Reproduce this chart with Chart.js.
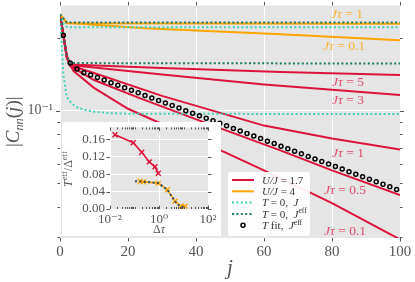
<!DOCTYPE html>
<html>
<head>
<meta charset="utf-8">
<script src="https://cdn.jsdelivr.net/npm/chart.js@4.4.0/dist/chart.umd.min.js"></script>
<style>
  html, body { margin: 0; padding: 0; background: #fff; }
  #wrap { position: relative; width: 415px; height: 282px; overflow: hidden; }
  #main { position: absolute; left: 0; top: 0; }
  #insetBox { position: absolute; left: 62px; top: 122px; width: 159px; height: 114px; background: #fff; }
</style>
</head>
<body>
<div id="wrap">
  <canvas id="main" width="415" height="282"></canvas>
  <div id="insetBox"><canvas id="inset" width="159" height="114"></canvas></div>
</div>
<script>
// ---- main panel: |C_nn(j)| against j ----
const jTicks = [0, 20, 40, 60, 80, 100]
const cMajorTicks = [0.1]
const cMinorTicks = [0.03, 0.04, 0.05, 0.06, 0.07, 0.08, 0.09, 0.2]

// U/J = 1.7, finite temperature (J tau = 5, 3, 1, 0.5, 0.1)
const j17tau5 = [0, 1, 2, 3, 30, 65, 100]
const c17tau5 = [0.2507, 0.2055, 0.1684, 0.1554, 0.1503, 0.1447, 0.1406]
const j17tau3 = [0, 1, 2, 3, 10, 30, 60, 100]
const c17tau3 = [0.2507, 0.2055, 0.1684, 0.1547, 0.1510, 0.1413, 0.1285, 0.1161]
const j17tau1 = [0, 1, 2, 3, 10, 30, 60, 80, 100]
const c17tau1 = [0.2507, 0.2055, 0.1684, 0.1539, 0.1434, 0.1153, 0.0868, 0.0767, 0.0691]
const j17tau05 = [0, 1, 2, 3, 10, 24, 45, 65, 80, 100]
const c17tau05 = [0.2507, 0.2055, 0.1684, 0.1532, 0.1341, 0.1120, 0.0868, 0.0684, 0.0566, 0.0447]
const j17tau01 = [0, 1, 2, 4, 10, 20, 46, 60, 80, 100]
const c17tau01 = [0.2507, 0.2055, 0.1653, 0.1461, 0.1244, 0.1019, 0.0698, 0.0566, 0.0414, 0.0293]

// U/J = 4 (J tau = 1, 0.1)
const j4tau1 = [0, 1, 2, 100]
const c4tau1 = [0.2507, 0.2413, 0.2302, 0.2291]
const j4tau01 = [0, 1, 2, 10, 25, 65, 100]
const c4tau01 = [0.2507, 0.2413, 0.2313, 0.2270, 0.2196, 0.2074, 0.1960]

// T = 0 with J
const jT0J4 = [0, 1, 2, 3, 100]
const cT0J4 = [0.2507, 0.2302, 0.2227, 0.2217, 0.2217]
const jT0J17 = [0, 1, 2, 3, 4, 5, 7, 10, 15, 20, 100]
const cT0J17 = [0.2507, 0.1406, 0.1142, 0.1089, 0.1058, 0.1034, 0.1009, 0.0991, 0.0977, 0.0972, 0.0969]

// T = 0 with J^eff
const jT0Jeff4 = [0, 1, 2, 100]
const cT0Jeff4 = [0.2507, 0.2413, 0.2324, 0.2324]
const jT0Jeff17 = [0, 1, 2, 3, 100]
const cT0Jeff17 = [0.2507, 0.2055, 0.1684, 0.1576, 0.1569]

// T fit with J^eff (open circles)
const jFit = [1, 3, 5, 7, 9, 11, 13, 15, 17, 19, 21, 23, 25, 27, 29, 31, 33, 35, 37, 39,
  41, 43, 45, 47, 49, 51, 53, 55, 57, 59, 61, 63, 65, 67, 69, 71, 73, 75, 77, 79,
  81, 83, 85, 87, 89, 91, 93, 95, 97, 99]
const cFit = [0.2055, 0.1576, 0.1489, 0.1438, 0.1406, 0.1373, 0.1340, 0.1307, 0.1276, 0.1246,
  0.1216, 0.1187, 0.1158, 0.1130, 0.1103, 0.1077, 0.1051, 0.1026, 0.1001, 0.0977,
  0.0954, 0.0931, 0.0909, 0.0887, 0.0866, 0.0845, 0.0825, 0.0805, 0.0786, 0.0767,
  0.0748, 0.0731, 0.0713, 0.0696, 0.0679, 0.0663, 0.0647, 0.0631, 0.0616, 0.0602,
  0.0587, 0.0573, 0.0559, 0.0546, 0.0533, 0.0520, 0.0508, 0.0496, 0.0484, 0.0472]

// ---- inset: T^eff / Delta^eff against Delta tau ----
const dtauMajor = [0.01, 1, 100]
const dtauLabels = ['10⁻²', '10⁰', '10²']
const dtauMinor = [0.02, 0.03, 0.04, 0.05, 0.06, 0.07, 0.08, 0.09, 0.1, 0.2, 0.3, 0.4, 0.5, 0.6, 0.7, 0.8, 0.9,
  2, 3, 4, 5, 6, 7, 8, 9, 10, 20, 30, 40, 50, 60, 70, 80, 90]
const ratioTicks = [0, 0.04, 0.08, 0.12, 0.16]

const dtau17 = [0.016, 0.089, 0.197, 0.402, 0.687, 0.935]
const ratio17 = [0.170, 0.152, 0.130, 0.108, 0.0967, 0.082]
const dtau4 = [0.168, 0.229, 0.935, 2.2, 4.5, 7.9, 11.5]
const ratio4 = [0.0637, 0.0622, 0.0593, 0.044, 0.0176, 0.0066, 0.0066]
const dtauT0 = [0.105, 0.43, 0.935, 2.2, 4.5, 7.2, 10.5]
const ratioT0 = [0.0637, 0.0615, 0.0593, 0.044, 0.0176, 0.0055, 0.0044]

const legendLabels = [
  [['U/J', 'i'], [' = 1.7', 'r']],
  [['U/J', 'i'], [' = 4', 'r']],
  [['T', 'i'], [' = 0,  ', 'r'], ['J', 'i']],
  [['T', 'i'], [' = 0,  ', 'r'], ['J', 'i'], ['eff', 'sup']],
  [['T', 'i'], [' fit,  ', 'r'], ['J', 'i'], ['eff', 'sup']]
]

const SERIF = '"Liberation Serif", "DejaVu Serif", serif'
const PANEL = '#e5e5e5'
const TXT = '#555'
const RED = '#dc143c'
const ORANGE = '#ffa500'
const TURQ = '#40d0b4'
const DKGREEN = '#1d7a66'
const SLATE = '#2e4a5e'
const DOTS = [2, 2.4]

const pts = (xs, ys) => xs.map((x, i) => ({ x: x, y: ys[i] }))

// no extra room for half-labels at the ends of the axes
const noPad = s => { s.paddingTop = 0; s.paddingBottom = 0; s.paddingLeft = 0; s.paddingRight = 0 }

function richText (ctx, parts, x, y, size, align) {
  const fontFor = s => {
    if (s === 'sup') return (size * 0.7) + 'px ' + SERIF
    if (s === 'sub') return 'italic ' + (size * 0.65) + 'px ' + SERIF
    if (s === 'i') return 'italic ' + size + 'px ' + SERIF
    return size + 'px ' + SERIF
  }
  let w = 0
  parts.forEach(p => { ctx.font = fontFor(p[1]); w += ctx.measureText(p[0]).width })
  let cx = align === 'center' ? x - w / 2 : x
  ctx.textAlign = 'left'
  ctx.textBaseline = 'alphabetic'
  parts.forEach(p => {
    ctx.font = fontFor(p[1])
    let dy = 0
    if (p[1] === 'sup') dy = -size * 0.4
    if (p[1] === 'sub') dy = size * 0.22
    ctx.fillText(p[0], cx, y + dy)
    cx += ctx.measureText(p[0]).width
  })
}

const panelBg = {
  id: 'panelBg',
  beforeDraw (chart) {
    const a = chart.chartArea
    chart.ctx.save()
    chart.ctx.fillStyle = PANEL
    chart.ctx.fillRect(a.left, a.top, a.right - a.left, a.bottom - a.top)
    chart.ctx.restore()
  }
}

const mainDecor = {
  id: 'mainDecor',
  afterDraw (chart) {
    const ctx = chart.ctx
    const a = chart.chartArea
    const x = chart.scales.x
    const y = chart.scales.y
    ctx.save()
    // tick marks on all four sides
    ctx.strokeStyle = TXT
    ctx.lineWidth = 1
    ctx.beginPath()
    jTicks.forEach(v => {
      const px = Math.round(x.getPixelForValue(v)) + 0.5
      ctx.moveTo(px, a.bottom); ctx.lineTo(px, a.bottom + 3.5)
      ctx.moveTo(px, a.top); ctx.lineTo(px, a.top - 3.5)
    })
    cMajorTicks.forEach(v => {
      const py = Math.round(y.getPixelForValue(v)) + 0.5
      ctx.moveTo(a.left, py); ctx.lineTo(a.left - 4, py)
      ctx.moveTo(a.right, py); ctx.lineTo(a.right + 4, py)
    })
    cMinorTicks.forEach(v => {
      const py = Math.round(y.getPixelForValue(v)) + 0.5
      ctx.moveTo(a.left, py); ctx.lineTo(a.left - 2.5, py)
      ctx.moveTo(a.right, py); ctx.lineTo(a.right + 2.5, py)
    })
    ctx.stroke()

    // axis titles
    ctx.fillStyle = TXT
    richText(ctx, [['j', 'i']], (a.left + a.right) / 2, 274, 21, 'center')
    ctx.save()
    ctx.translate(13, (a.top + a.bottom) / 2)
    ctx.rotate(-Math.PI / 2)
    richText(ctx, [['|', 'r'], ['C', 'i'], ['nn', 'sub'], ['(', 'r'], ['j', 'i'], [')|', 'r']], 0, 6, 19, 'center')
    ctx.restore()

    // J tau annotations
    const orangeTxt = 'rgba(255,165,0,0.8)'
    const redTxt = 'rgba(220,20,60,0.75)'
    const notes = [
      [[['Jτ', 'i'], [' = 1', 'r']], 347, 18, orangeTxt],
      [[['Jτ', 'i'], [' = 0.1', 'r']], 344, 50, orangeTxt],
      [[['Jτ', 'i'], [' = 5', 'r']], 348, 86, redTxt],
      [[['Jτ', 'i'], [' = 3', 'r']], 348, 104, redTxt],
      [[['Jτ', 'i'], [' = 1', 'r']], 348, 157, redTxt],
      [[['Jτ', 'i'], [' = 0.5', 'r']], 345, 194, redTxt],
      [[['Jτ', 'i'], [' = 0.1', 'r']], 345, 235, redTxt]
    ]
    notes.forEach(n => { ctx.fillStyle = n[3]; richText(ctx, n[0], n[1], n[2], 13.5, 'center') })

    // legend box
    const bx = 228, by = 172, bw = 82, bh = 64
    ctx.beginPath()
    ctx.roundRect(bx, by, bw, bh, 3)
    ctx.fillStyle = 'rgba(255,255,255,0.92)'
    ctx.fill()
    const styles = [
      { c: RED, dash: [] },
      { c: ORANGE, dash: [] },
      { c: TURQ, dash: DOTS },
      { c: DKGREEN, dash: DOTS },
      { c: '#000', marker: true }
    ]
    legendLabels.forEach((lab, i) => {
      const cy = 180 + i * 11.3
      const s = styles[i]
      if (s.marker) {
        ctx.beginPath()
        ctx.setLineDash([])
        ctx.strokeStyle = '#000'
        ctx.lineWidth = 1.5
        ctx.arc(243, cy, 2, 0, Math.PI * 2)
        ctx.stroke()
      } else {
        ctx.beginPath()
        ctx.setLineDash(s.dash)
        ctx.strokeStyle = s.c
        ctx.lineWidth = 2
        ctx.moveTo(232, cy); ctx.lineTo(254, cy)
        ctx.stroke()
      }
      ctx.setLineDash([])
      ctx.fillStyle = '#333'
      richText(ctx, lab, 262, cy + 3.8, 11, 'left')
    })
    ctx.restore()
  }
}

const lineSet = (xs, ys, color, dash, order) => ({
  data: pts(xs, ys),
  borderColor: color,
  borderWidth: 2,
  borderDash: dash,
  pointRadius: 0,
  fill: false,
  order: order
})

new Chart(document.getElementById('main'), {
  type: 'line',
  data: {
    datasets: [
      {
        data: pts(jFit, cFit),
        showLine: false,
        pointRadius: 2,
        pointBorderWidth: 1.5,
        pointBorderColor: '#000',
        pointBackgroundColor: 'rgba(0,0,0,0)',
        order: 0
      },
      lineSet(jT0Jeff4, cT0Jeff4, DKGREEN, DOTS, 1),
      lineSet(jT0Jeff17, cT0Jeff17, DKGREEN, DOTS, 1),
      lineSet(jT0J4, cT0J4, TURQ, DOTS, 2),
      lineSet(jT0J17, cT0J17, TURQ, DOTS, 2),
      lineSet(j4tau1, c4tau1, ORANGE, [], 3),
      lineSet(j4tau01, c4tau01, ORANGE, [], 3),
      lineSet(j17tau5, c17tau5, RED, [], 4),
      lineSet(j17tau3, c17tau3, RED, [], 4),
      lineSet(j17tau1, c17tau1, RED, [], 4),
      lineSet(j17tau05, c17tau05, RED, [], 4),
      lineSet(j17tau01, c17tau01, RED, [], 4)
    ]
  },
  options: {
    responsive: false,
    animation: false,
    layout: { padding: { left: 0, right: 15, top: 4, bottom: 0 } },
    plugins: { legend: { display: false }, tooltip: { enabled: false } },
    scales: {
      x: {
        type: 'linear',
        min: 0,
        max: 100,
        afterBuildTicks: s => { s.ticks = jTicks.map(v => ({ value: v })) },
        afterFit: s => { s.height = 44; noPad(s) },
        ticks: { font: { family: SERIF, size: 15 }, color: TXT, padding: 5, autoSkip: false, maxRotation: 0 },
        grid: { color: '#fff', lineWidth: 1, drawTicks: false },
        border: { display: false }
      },
      y: {
        type: 'logarithmic',
        min: 0.0297,
        max: 0.273,
        afterBuildTicks: s => { s.ticks = cMajorTicks.concat(cMinorTicks).map(v => ({ value: v })) },
        afterFit: s => { s.width = 60; noPad(s) },
        ticks: {
          callback: v => (v === 0.1 ? '10⁻¹' : ''),
          font: { family: SERIF, size: 14 },
          color: TXT,
          padding: 7,
          autoSkip: false
        },
        grid: {
          color: c => (c.tick && c.tick.value === 0.1 ? '#fff' : 'rgba(0,0,0,0)'),
          lineWidth: 1,
          drawTicks: false
        },
        border: { display: false }
      }
    }
  },
  plugins: [panelBg, mainDecor]
})

// ---- inset chart ----
const insetDecor = {
  id: 'insetDecor',
  afterDraw (chart) {
    const ctx = chart.ctx
    const a = chart.chartArea
    const x = chart.scales.x
    const y = chart.scales.y
    ctx.save()
    ctx.strokeStyle = TXT
    ctx.lineWidth = 1
    ctx.beginPath()
    dtauMajor.forEach(v => {
      const px = Math.round(x.getPixelForValue(v)) + 0.5
      ctx.moveTo(px, a.bottom); ctx.lineTo(px, a.bottom - 3.5)
      ctx.moveTo(px, a.top); ctx.lineTo(px, a.top + 3.5)
    })
    dtauMinor.forEach(v => {
      const px = Math.round(x.getPixelForValue(v)) + 0.5
      ctx.moveTo(px, a.bottom); ctx.lineTo(px, a.bottom - 2)
      ctx.moveTo(px, a.top); ctx.lineTo(px, a.top + 2)
    })
    ratioTicks.forEach(v => {
      const py = Math.round(y.getPixelForValue(v)) + 0.5
      ctx.moveTo(a.left, py); ctx.lineTo(a.left - 3.5, py)
      ctx.moveTo(a.right, py); ctx.lineTo(a.right + 3.5, py)
    })
    ctx.stroke()
    ctx.fillStyle = TXT
    richText(ctx, [['Δ', 'r'], ['τ', 'i']], (a.left + a.right) / 2, 111, 12, 'center')
    ctx.translate(9.5, 47)
    ctx.rotate(-Math.PI / 2)
    richText(ctx, [['T', 'i'], ['eff', 'sup'], ['/Δ', 'r'], ['eff', 'sup']], 0, 0, 12, 'center')
    ctx.restore()
  }
}

const insetLine = (xs, ys, color, extra) => Object.assign({
  data: pts(xs, ys),
  borderColor: color,
  borderWidth: 1.6,
  pointRadius: 0,
  fill: false
}, extra)

new Chart(document.getElementById('inset'), {
  type: 'line',
  data: {
    datasets: [
      insetLine(dtauT0, ratioT0, SLATE, { borderWidth: 2, borderDash: DOTS, order: 0 }),
      insetLine(dtau4, ratio4, ORANGE, { pointStyle: 'crossRot', pointRadius: 3.5, pointBorderColor: ORANGE, pointBorderWidth: 1.4, order: 1 }),
      insetLine(dtau17, ratio17, RED, { pointStyle: 'crossRot', pointRadius: 3.5, pointBorderColor: RED, pointBorderWidth: 1.4, order: 1 })
    ]
  },
  options: {
    responsive: false,
    animation: false,
    layout: { padding: { left: 0, right: 13, top: 2, bottom: 0 } },
    plugins: { legend: { display: false }, tooltip: { enabled: false } },
    scales: {
      x: {
        type: 'logarithmic',
        min: 0.01,
        max: 100,
        afterBuildTicks: s => { s.ticks = dtauMajor.map(v => ({ value: v })) },
        afterFit: s => { s.height = 27; noPad(s) },
        ticks: {
          callback: v => dtauLabels[dtauMajor.indexOf(v)],
          font: { family: SERIF, size: 13 },
          color: TXT,
          padding: 3,
          autoSkip: false,
          maxRotation: 0
        },
        grid: { color: '#fff', drawTicks: false },
        border: { display: false }
      },
      y: {
        type: 'linear',
        min: 0,
        max: 0.187,
        afterBuildTicks: s => { s.ticks = ratioTicks.map(v => ({ value: v })) },
        afterFit: s => { s.width = 48; noPad(s) },
        ticks: {
          callback: v => v.toFixed(2),
          font: { family: SERIF, size: 13 },
          color: TXT,
          padding: 5,
          autoSkip: false
        },
        grid: { color: '#fff', drawTicks: false },
        border: { display: false }
      }
    }
  },
  plugins: [panelBg, insetDecor]
})
</script>
</body>
</html>
